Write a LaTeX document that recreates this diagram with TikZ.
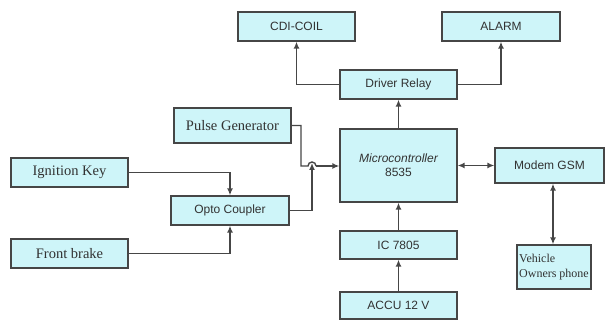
\documentclass[tikz,border=0pt]{standalone}
\usepackage{fontspec}
\setmainfont{Liberation Serif}
\setsansfont{Liberation Sans}
\usetikzlibrary{arrows.meta}
\definecolor{boxfill}{RGB}{206,245,249}
\definecolor{boxline}{RGB}{70,70,70}
\definecolor{txt}{RGB}{50,50,50}
\tikzset{
  blk/.style={draw=boxline, line width=1.3pt, fill=boxfill, text=txt, inner sep=0pt, anchor=center, font=\sffamily\fontsize{12}{14}\selectfont},
  sblk/.style={blk, font=\rmfamily\fontsize{14.5}{16}\selectfont},
  conn/.style={draw=boxline, line width=1.4pt, -{Latex[length=7pt,width=6pt]}},
  dconn/.style={draw=boxline, line width=1.4pt, {Latex[length=7pt,width=6pt]}-{Latex[length=7pt,width=6pt]}},
  plain/.style={draw=boxline, line width=1.4pt}
}
\begin{document}
\begin{tikzpicture}[x=1pt,y=-1pt]
\useasboundingbox (0,0) rectangle (606,320);
\node[blk, minimum width=117pt, minimum height=29pt] (cdi) at (296.5,26.5) {CDI-COIL};
\node[blk, minimum width=118pt, minimum height=29pt] (alarm) at (501,26.5) {ALARM};
\node[blk, minimum width=117pt, minimum height=29pt] (drv) at (398.5,84.5) {Driver Relay};
\node[blk, minimum width=117pt, minimum height=73pt, align=center] (mc) at (398.5,165.5) {\itshape Microcontroller\\8535};
\node[sblk, minimum width=117pt, minimum height=35pt] (pulse) at (232.5,125.5) {Pulse Generator};
\node[sblk, minimum width=117pt, minimum height=29pt] (ign) at (69.5,172.5) {Ignition Key};
\node[sblk, minimum width=117pt, minimum height=29pt] (front) at (69.5,253.5) {Front brake};
\node[blk, minimum width=118pt, minimum height=29pt] (opto) at (230,210.5) {Opto Coupler};
\node[blk, minimum width=109pt, minimum height=35pt] (modem) at (549.5,165.5) {Modem GSM};
\node[blk, minimum width=74pt, minimum height=44pt, font=\rmfamily\fontsize{12}{16}\selectfont, align=left] (veh) at (554,267) {Vehicle\\[-1pt]Owners phone};
\node[blk, minimum width=117pt, minimum height=28pt] (ic) at (398.5,245) {IC 7805};
\node[blk, minimum width=117pt, minimum height=27pt] (accu) at (398.5,305.5) {ACCU 12 V};

\coordinate (jl) at (308,166);
\coordinate (jr) at (316,166);
\coordinate (jt) at (312,163);
\coordinate (pk) at (301,166);
\coordinate (vx) at (553,0);

\draw[conn] (drv.west) -| (cdi.south);
\draw[conn] (drv.east) -| (alarm.south);
\draw[conn] (mc.north) -- (drv.south);
\draw[conn] (ic.north) -- (mc.south);
\draw[conn] (accu.north) -- (ic.south);
\draw[conn] (ign.east) -| (opto.north);
\draw[conn] (front.east) -| (opto.south);
\draw[plain] (pulse.east) -| (pk) -- (jl) arc[start angle=180, end angle=0, radius=4pt];
\draw[conn] (jr) -- (mc.west |- jr);
\draw[conn] (opto.east) -| (jt);
\draw[dconn] (mc.east |- 0,165.5) -- (modem.west);
\draw[dconn] (vx |- modem.south) -- (vx |- veh.north);
\end{tikzpicture}
\end{document}
